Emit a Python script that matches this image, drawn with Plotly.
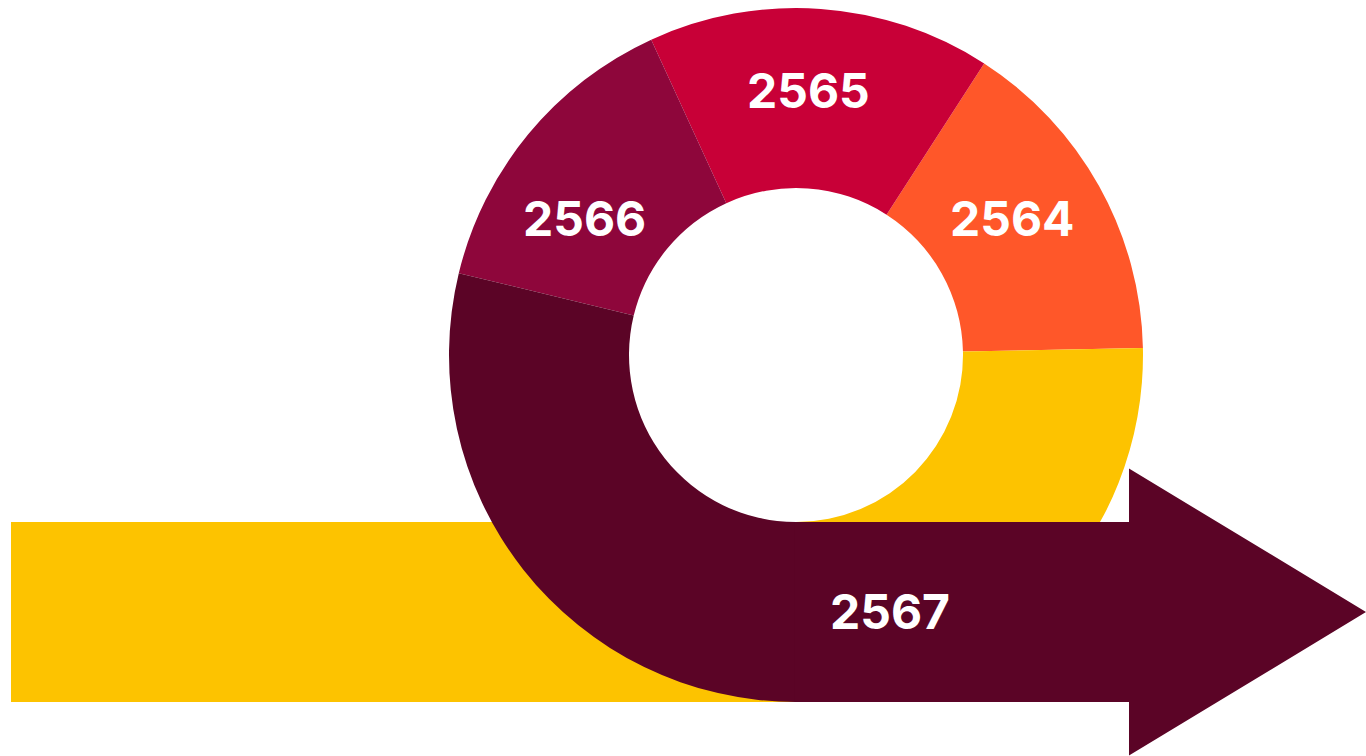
import plotly.graph_objects as go

# ---- data ----
slice_labels = ["2564", "2565", "2566", "2567", "ฐาน"]
slice_shares = [56.0, 57.5, 51.7, 103.6, 91.2]   # share of ring (degrees of 360)
slice_colors = ["#FF5729", "#C80037", "#8E063B", "#5B0426", "#FDC300"]
label_years = ["2564", "2565", "2566", "2567"]

# ---- layout geometry (pixels) ----
W, H = 1366, 756
CX, CY = 796, 355
R_OUT, R_IN = 347, 167
START_DEG = 1.16          # math angle where the first slice begins
BAR_LEFT = 11
HEAD_X, TIP_X = 1129, 1366
HEAD_HALF = 143.5
label_pos = [(1012, 218), (808, 91), (584, 218), (890, 611)]


def px(x):
    return x / W


def py(y):
    return 1 - y / H


total = sum(slice_shares)
first_span = slice_shares[0] / total * 360

fig = go.Figure(
    go.Pie(
        labels=slice_labels,
        values=slice_shares,
        sort=False,
        direction="counterclockwise",
        rotation=90 - START_DEG - first_span,
        hole=R_IN / R_OUT,
        marker=dict(colors=slice_colors, line=dict(width=0)),
        textinfo="none",
        hoverinfo="skip",
        showlegend=False,
        domain=dict(x=[px(CX - R_OUT), px(CX + R_OUT)],
                    y=[py(CY + R_OUT), py(CY - R_OUT)]),
    )
)

shaft_top = CY + R_IN
shaft_bot = CY + R_OUT
mid = (shaft_top + shaft_bot) / 2

# yellow bar behind the ring
fig.add_shape(type="rect", xref="paper", yref="paper", layer="below",
              x0=px(BAR_LEFT), x1=px(CX), y0=py(shaft_bot), y1=py(shaft_top),
              fillcolor=slice_colors[4], line=dict(width=0))

# dark arrow continuing the 2567 slice
pts = [(CX - 1, shaft_top), (HEAD_X, shaft_top), (HEAD_X, mid - HEAD_HALF),
       (TIP_X, mid), (HEAD_X, mid + HEAD_HALF), (HEAD_X, shaft_bot),
       (CX - 1, shaft_bot)]
path = "M " + " L ".join(f"{px(x):.5f},{py(y):.5f}" for x, y in pts) + " Z"
fig.add_shape(type="path", xref="paper", yref="paper", layer="above",
              path=path, fillcolor=slice_colors[3], line=dict(width=0))

for txt, (x, y) in zip(label_years, label_pos):
    fig.add_annotation(text=f"<b>{txt}</b>", x=px(x), y=py(y), xref="paper", yref="paper",
                       xanchor="center", yanchor="middle", showarrow=False,
                       font=dict(family="Inter", size=48, color="white"))

fig.update_layout(width=W, height=H, autosize=False,
                  margin=dict(l=0, r=0, t=0, b=0, pad=0),
                  paper_bgcolor="white", plot_bgcolor="white")

fig.write_html("out.html")
